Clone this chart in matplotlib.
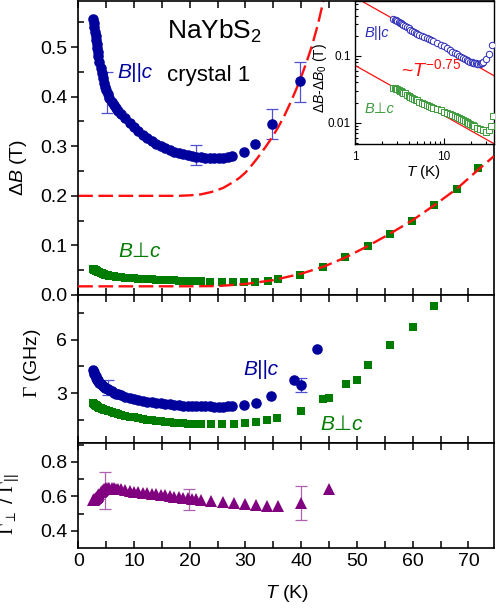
import numpy as np
import matplotlib
matplotlib.use("Agg")
import matplotlib.pyplot as plt
from matplotlib.ticker import MultipleLocator, LogLocator, NullFormatter, FixedLocator, FixedFormatter

plt.rcParams.update({
    "font.family": ["Liberation Sans", "DejaVu Sans"],
    "mathtext.fontset": "custom",
    "mathtext.rm": "Liberation Sans",
    "mathtext.it": "Liberation Sans:italic",
    "mathtext.sf": "Liberation Sans",
    "mathtext.cal": "Liberation Serif",
    "lines.scale_dashes": False,
})

# ---------------- data ----------------
T_par = [2.7, 2.8, 2.9, 3.0, 3.1, 3.2, 3.3, 3.4, 3.5, 3.6, 3.8, 4.0, 4.2, 4.4, 4.6, 4.8,
         5.0, 5.3, 5.6, 6.0, 6.4, 6.8, 7.2, 7.6, 8.4, 9.2, 10.0, 10.8, 11.6, 12.4, 13.2,
         14.0, 14.8, 15.6, 16.4, 17.2, 18.0, 18.8, 19.6, 20.4, 21.2, 22.0, 22.8, 23.6,
         24.4, 25.2, 26.0, 26.8, 27.6, 29.7, 31.7, 34.8, 39.8]
dB_par = [0.556, 0.549, 0.540, 0.531, 0.522, 0.514, 0.506, 0.498, 0.490, 0.483, 0.470,
          0.458, 0.447, 0.437, 0.428, 0.420, 0.413, 0.405, 0.398, 0.390, 0.383, 0.377,
          0.371, 0.366, 0.356, 0.347, 0.338, 0.330, 0.323, 0.316, 0.310, 0.305, 0.300,
          0.296, 0.292, 0.289, 0.286, 0.284, 0.282, 0.280, 0.279, 0.278, 0.277, 0.276,
          0.276, 0.276, 0.277, 0.278, 0.280, 0.289, 0.305, 0.344, 0.431]

T_perp = [2.7, 2.8, 2.9, 3.0, 3.1, 3.2, 3.3, 3.4, 3.5, 3.6, 3.8, 4.0, 4.2, 4.4, 4.6, 4.8,
          5.0, 5.3, 5.6, 6.0, 6.4, 6.8, 7.2, 7.6, 8.4, 9.2, 10.0, 10.8, 11.6, 12.4, 13.2,
          14.0, 14.8, 15.6, 16.4, 17.2, 18.0, 18.8, 19.6, 20.4, 21.2, 22.0, 23.6, 25.7,
          27.8, 29.7, 31.7, 34.0, 35.8, 39.8, 43.9, 47.9, 51.9, 55.9, 59.8, 63.9, 67.9, 71.8]
dB_perp = [0.052, 0.0515, 0.051, 0.0505, 0.050, 0.0493, 0.0486, 0.048, 0.0473, 0.0466,
           0.0454, 0.0443, 0.0434, 0.0426, 0.0418, 0.0411, 0.0405, 0.0397, 0.0390, 0.0382,
           0.0375, 0.0369, 0.0363, 0.0358, 0.0350, 0.0343, 0.0337, 0.0331, 0.0325, 0.0320,
           0.0315, 0.0310, 0.0306, 0.0302, 0.0298, 0.0295, 0.0292, 0.0289, 0.0286, 0.0284,
           0.0281, 0.0279, 0.0272, 0.0270, 0.0268, 0.0262, 0.0268, 0.0280, 0.0316, 0.040,
           0.057, 0.076, 0.099, 0.124, 0.150, 0.181, 0.213, 0.257]

# error bars on Delta B (B||c)
errT_dB = [5.2, 21.1, 34.8, 39.8]
errV_dB = [0.409, 0.2825, 0.3445, 0.430]
errE_dB = [0.041, 0.0195, 0.0305, 0.040]

# model curves (dashed)
fitT_par = [0, 10, 18, 20, 22, 24, 26, 28, 29, 30, 31, 32, 33, 34, 35, 36, 37, 38, 39,
            40, 41, 42, 43, 44, 44.5]
fitV_par = [0.2, 0.2, 0.2, 0.201, 0.203, 0.208, 0.216, 0.229, 0.237, 0.247, 0.260, 0.274,
            0.289, 0.305, 0.322, 0.341, 0.362, 0.386, 0.412, 0.440, 0.471, 0.505, 0.546,
            0.594, 0.62]
fitT_perp = [0, 10, 20, 25, 30, 35, 40, 44, 48, 52, 56, 60, 64, 68, 72, 74.6]
fitV_perp = [0.0175, 0.0175, 0.0176, 0.018, 0.0222, 0.030, 0.043, 0.057, 0.076, 0.099,
             0.124, 0.151, 0.182, 0.215, 0.255, 0.280]

# linewidth Gamma
GT_par = [2.7, 2.8, 2.9, 3.0, 3.1, 3.2, 3.3, 3.4, 3.5, 3.6, 3.8, 4.0, 4.2, 4.4, 4.6, 4.8,
          5.0, 5.3, 5.6, 6.0, 6.4, 6.8, 7.2, 7.6, 8.4, 9.2, 10.0, 10.8, 11.6, 12.4, 13.2,
          14.0, 14.8, 15.6, 16.4, 17.2, 18.0, 18.8, 19.6, 20.4, 21.2, 22.0, 22.8, 23.6,
          24.4, 25.2, 26.0, 26.8, 27.6, 29.7, 31.8, 34.6, 38.7, 40.0, 42.9]
G_par = [4.28, 4.18, 4.09, 4.01, 3.94, 3.87, 3.81, 3.76, 3.71, 3.66, 3.58, 3.51, 3.45,
         3.40, 3.35, 3.31, 3.27, 3.21, 3.16, 3.09, 3.03, 2.97, 2.92, 2.87, 2.79, 2.72,
         2.66, 2.61, 2.56, 2.52, 2.48, 2.45, 2.42, 2.39, 2.36, 2.34, 2.32, 2.30, 2.29,
         2.28, 2.27, 2.26, 2.25, 2.25, 2.24, 2.24, 2.24, 2.25, 2.26, 2.34, 2.46, 2.81,
         3.71, 3.43, 5.48]
GT_perp = [2.7, 2.8, 2.9, 3.0, 3.1, 3.2, 3.3, 3.4, 3.5, 3.6, 3.8, 4.0, 4.2, 4.4, 4.6, 4.8,
           5.0, 5.3, 5.6, 6.0, 6.4, 6.8, 7.2, 7.6, 8.4, 9.2, 10.0, 10.8, 11.6, 12.4, 13.2,
           14.0, 14.8, 15.6, 16.4, 17.2, 18.0, 18.8, 19.6, 20.4, 21.2, 22.0, 23.8, 25.8,
           27.9, 29.9, 31.8, 33.8, 35.7, 39.9, 43.9, 45.0, 48.0, 50.0, 51.9, 55.9, 60.0, 63.9]
G_perp = [2.44, 2.41, 2.38, 2.35, 2.32, 2.30, 2.27, 2.25, 2.23, 2.21, 2.17, 2.14, 2.11,
          2.09, 2.07, 2.05, 2.03, 2.00, 1.97, 1.93, 1.89, 1.86, 1.83, 1.79, 1.73, 1.68,
          1.63, 1.59, 1.55, 1.51, 1.48, 1.45, 1.42, 1.39, 1.36, 1.34, 1.32, 1.30, 1.29,
          1.28, 1.27, 1.26, 1.27, 1.27, 1.27, 1.31, 1.40, 1.50, 1.61, 2.02, 2.66, 2.75,
          3.51, 3.75, 4.59, 5.68, 6.71, 7.91]
errT_G = [5.3, 40.0]
errV_G = [3.31, 3.46]
errE_G = [0.44, 0.38]

# ratio Gamma_perp / Gamma_par
RT = [2.7, 2.8, 2.9, 3.0, 3.1, 3.2, 3.3, 3.4, 3.5, 3.6, 3.8, 4.0, 4.2, 4.4, 4.6, 4.8,
      5.0, 5.3, 5.6, 6.0, 6.4, 6.8, 7.2, 7.6, 8.4, 9.2, 10.0, 10.8, 11.6, 12.4, 13.2,
      14.0, 14.8, 15.6, 16.4, 17.2, 18.0, 18.8, 19.6, 20.4, 21.2, 22.0, 23.9, 25.9,
      27.9, 29.9, 31.9, 33.9, 35.9, 39.9, 44.9]
R = [0.577, 0.580, 0.582, 0.585, 0.588, 0.590, 0.594, 0.597, 0.600, 0.605, 0.615, 0.625,
     0.632, 0.638, 0.642, 0.645, 0.647, 0.648, 0.648, 0.648, 0.647, 0.645, 0.643, 0.640,
     0.636, 0.632, 0.628, 0.624, 0.621, 0.618, 0.614, 0.611, 0.608, 0.605, 0.602, 0.599,
     0.596, 0.593, 0.590, 0.587, 0.584, 0.581, 0.573, 0.568, 0.561, 0.557, 0.550, 0.542,
     0.542, 0.561, 0.641]
errT_R = [4.85, 19.9, 40.0]
errV_R = [0.633, 0.580, 0.560]
errE_R = [0.108, 0.060, 0.100]

# inset: Delta B - Delta B0
dB0_par = 0.2
dB0_perp = 0.019
inset_Tmax = 36.0
pow_T = [1.0, 40.0]
pow_par = [0.75, 0.0471]
pow_perp = [0.072, 0.00453]

# ---------------- style ----------------
c_blue = "#00009c"
c_blue_e = "#5050d0"
c_green = "#007d00"
c_purple = "#800080"
c_purple_e = "#b060b0"
c_red = "#ff1010"

fig = plt.figure(figsize=(4.98, 6.09), dpi=100)
L, W = 0.1572, 0.8348
ax1 = fig.add_axes([L, 0.5156, W, 0.4828])
ax2 = fig.add_axes([L, 0.2726, W, 0.2430])
ax3 = fig.add_axes([L, 0.1002, W, 0.1724])

for ax in (ax1, ax2, ax3):
    ax.set_xlim(0, 74.6)
    ax.xaxis.set_major_locator(MultipleLocator(10))
    ax.xaxis.set_minor_locator(MultipleLocator(5))
    for s in ax.spines.values():
        s.set_linewidth(1.2)
    ax.tick_params(axis="x", which="both", direction="in", top=True, bottom=True,
                   length=5, width=1.1, labelsize=14)
    ax.tick_params(axis="y", which="major", direction="out", left=True, right=False,
                   length=5, width=1.1, labelsize=14, pad=3)
    ax.tick_params(axis="y", which="minor", direction="in", left=True, right=False,
                   length=4, width=1.1)

ax1.tick_params(labelbottom=False)
ax2.tick_params(labelbottom=False)

# ----- top panel -----
ax1.set_ylim(0, 0.593)
ax1.yaxis.set_major_locator(MultipleLocator(0.1))
ax1.yaxis.set_minor_locator(MultipleLocator(0.05))
ax1.yaxis.set_major_formatter(matplotlib.ticker.FormatStrFormatter("%.1f"))
ax1.plot(fitT_par, fitV_par, color=c_red, lw=1.7, dashes=(10.5, 4.0), zorder=2)
ax1.plot(fitT_perp, fitV_perp, color=c_red, lw=1.7, dashes=(10.5, 4.0), zorder=4)
ax1.errorbar(errT_dB, errV_dB, yerr=errE_dB, fmt="none", ecolor=c_blue_e, elinewidth=0.9,
             capsize=4, capthick=0.9, zorder=1)
ax1.plot(T_par, dB_par, "o", color=c_blue, ms=7.6, mew=0, zorder=3)
ax1.plot(T_perp, dB_perp, "s", color=c_green, ms=6.2, mew=0, zorder=3)
ax1.set_ylabel(r"$\Delta B$ (T)", fontsize=14)
ax1.yaxis.set_label_coords(-0.118, 0.435)
ax1.text(15.9, 0.532, r"NaYbS$_2$", fontsize=19, ha="left", va="center")
ax1.text(15.9, 0.443, "crystal 1", fontsize=16, ha="left", va="center")
ax1.text(7.0, 0.449, "B||c", fontsize=15, style="italic", color=c_blue, ha="left", va="center")
ax1.text(7.2, 0.087, "B\u22a5c", fontsize=15, style="italic", color=c_green, ha="left",
         va="center")

# ----- middle panel -----
ax2.set_ylim(0.2, 8.5)
ax2.yaxis.set_major_locator(FixedLocator([3, 6]))
ax2.yaxis.set_minor_locator(FixedLocator([1.5, 4.5, 7.5]))
ax2.errorbar(errT_G, errV_G, yerr=errE_G, fmt="none", ecolor=c_blue_e, elinewidth=0.9,
             capsize=4, capthick=0.9, zorder=1)
ax2.plot(GT_par, G_par, "o", color=c_blue, ms=7.6, mew=0, zorder=3)
ax2.plot(GT_perp, G_perp, "s", color=c_green, ms=6.2, mew=0, zorder=3)
ax2.set_ylabel(r"$\mathcal{\Gamma}$ (GHz)", fontsize=14)
ax2.yaxis.set_label_coords(-0.085, 0.54)
ax2.text(29.6, 4.31, "B||c", fontsize=15, style="italic", color=c_blue, ha="left", va="center")
ax2.text(43.4, 1.22, "B\u22a5c", fontsize=15, style="italic", color=c_green, ha="left",
         va="center")

# ----- bottom panel -----
ax3.set_ylim(0.3, 0.91)
ax3.yaxis.set_major_locator(FixedLocator([0.4, 0.6, 0.8]))
ax3.yaxis.set_minor_locator(FixedLocator([0.5, 0.7, 0.9]))
ax3.yaxis.set_major_formatter(matplotlib.ticker.FormatStrFormatter("%.1f"))
ax3.errorbar(errT_R, errV_R, yerr=errE_R, fmt="none", ecolor=c_purple_e, elinewidth=0.9,
             capsize=4, capthick=0.9, zorder=1)
ax3.plot(RT, R, "^", color=c_purple, ms=8, mew=0, zorder=3)
ax3.set_ylabel(r"$\mathcal{\Gamma}_{\perp}$ / $\mathcal{\Gamma}_{||}$", fontsize=14)
ax3.yaxis.set_label_coords(-0.135, 0.42)
ax3.set_xlabel(r"$T$ (K)", fontsize=14)
ax3.xaxis.set_label_coords(0.503, -0.33)

# ----- inset -----
axin = fig.add_axes([0.7129, 0.7635, 0.2791, 0.2348])
axin.set_xscale("log")
axin.set_yscale("log")
axin.set_xlim(1, 36.5)
axin.set_ylim(0.0048, 0.66)
for s in axin.spines.values():
    s.set_linewidth(1.0)
Tp = np.array(T_par)
Tq = np.array(T_perp)
mp = Tp <= inset_Tmax
mq = Tq <= inset_Tmax
axin.plot(pow_T, pow_par, color=c_red, lw=0.9, zorder=2)
axin.plot(pow_T, pow_perp, color=c_red, lw=0.9, zorder=2)
axin.plot(Tp[mp], np.array(dB_par)[mp] - dB0_par, "o", mfc="white", mec="#2a2ab8",
          ms=4.6, mew=0.7, zorder=3)
axin.plot(Tq[mq], np.array(dB_perp)[mq] - dB0_perp, "s", mfc="white", mec="#3a9a3a",
          ms=4.2, mew=0.7, zorder=3)
axin.xaxis.set_major_locator(FixedLocator([1, 10]))
axin.xaxis.set_major_formatter(FixedFormatter(["1", "10"]))
axin.xaxis.set_minor_locator(LogLocator(base=10, subs=np.arange(2, 10)))
axin.xaxis.set_minor_formatter(NullFormatter())
axin.yaxis.set_major_locator(FixedLocator([0.01, 0.1]))
axin.yaxis.set_major_formatter(FixedFormatter(["0.01", "0.1"]))
axin.yaxis.set_minor_locator(LogLocator(base=10, subs=np.arange(2, 10)))
axin.yaxis.set_minor_formatter(NullFormatter())
axin.tick_params(which="both", direction="in", top=False, right=False, labelsize=8.5,
                 width=0.8)
axin.tick_params(which="major", length=4, pad=3)
axin.tick_params(which="minor", length=2.5)
axin.tick_params(axis="x", pad=5)
axin.set_xlabel(r"$T$ (K)", fontsize=11)
axin.xaxis.set_label_coords(0.496, -0.13)
axin.set_ylabel(r"$\Delta B$-$\Delta B_0$ (T)", fontsize=10)
axin.yaxis.set_label_coords(-0.19, 0.46)
axin.text(1.28, 0.222, "B||c", fontsize=10.5, style="italic", color="#2a2ab8", ha="left",
          va="center")
axin.text(1.28, 0.0163, "B\u22a5c", fontsize=10.5, style="italic", color="#3a9a3a",
          ha="left", va="center")
axin.text(3.3, 0.064, r"~$T^{\mathsf{-0.75}}$", fontsize=14, color=c_red, ha="left",
          va="center")

fig.savefig("out.png", dpi=100)
